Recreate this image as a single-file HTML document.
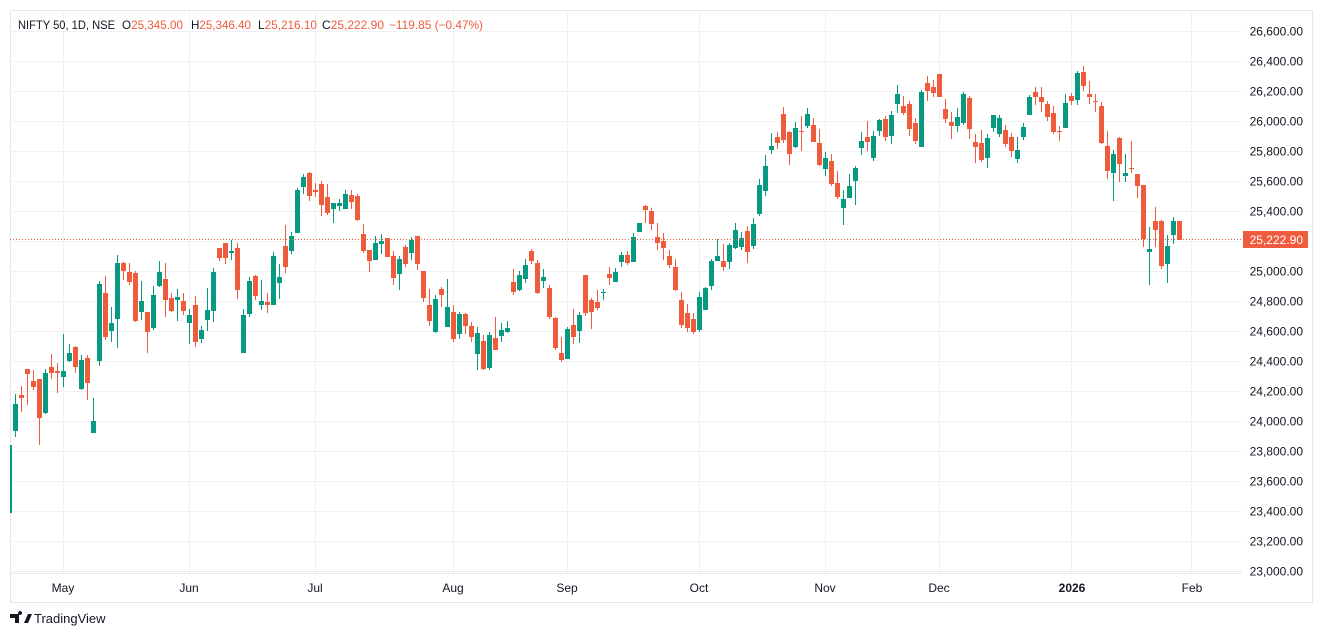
<!DOCTYPE html>
<html><head><meta charset="utf-8"><style>
html,body{margin:0;padding:0;background:#fff;width:1322px;height:637px;overflow:hidden;font-family:"Liberation Sans",sans-serif}
svg text{font-family:"Liberation Sans",sans-serif;white-space:pre}
</style></head><body>
<svg id="s" width="1322" height="637" xmlns="http://www.w3.org/2000/svg">
<rect x="10.5" y="10.5" width="1302" height="592" fill="#fff" stroke="#e6e7ea"/>
<g id="grid" stroke="#f0f1f3" stroke-width="1"></g>
<g id="c"></g>
<line x1="10" y1="239.5" x2="1242" y2="239.5" stroke="#ef5b3d" stroke-dasharray="1,2"/>
<g id="lbl" font-size="12" fill="#131722" text-anchor="end"></g>
<rect x="1243" y="231" width="65" height="17" fill="#ef5b3d"/>
<text x="1303" y="244" font-size="12" fill="#fff" text-anchor="end">25,222.90</text>
<g font-size="12" fill="#131722" text-anchor="middle">
<text x="63" y="592">May</text><text x="189" y="592">Jun</text><text x="315" y="592">Jul</text>
<text x="453" y="592">Aug</text><text x="567" y="592">Sep</text><text x="699" y="592">Oct</text>
<text x="825" y="592">Nov</text><text x="939" y="592">Dec</text>
<text x="1072" y="592" font-weight="bold">2026</text><text x="1192" y="592">Feb</text>
</g>
<g font-size="12" fill="#131722">
<text x="18" y="29" textLength="97" lengthAdjust="spacingAndGlyphs">NIFTY 50, 1D, NSE</text>
<text x="122" y="29" textLength="61" lengthAdjust="spacingAndGlyphs">O<tspan fill="#ef5b3d">25,345.00</tspan></text>
<text x="191" y="29" textLength="60" lengthAdjust="spacingAndGlyphs">H<tspan fill="#ef5b3d">25,346.40</tspan></text>
<text x="258" y="29" textLength="59" lengthAdjust="spacingAndGlyphs">L<tspan fill="#ef5b3d">25,216.10</tspan></text>
<text x="322" y="29" textLength="62" lengthAdjust="spacingAndGlyphs">C<tspan fill="#ef5b3d">25,222.90</tspan></text>
<text x="389" y="29" fill="#ef5b3d" textLength="94" lengthAdjust="spacingAndGlyphs">−119.85 (−0.47%)</text>
</g>
<g transform="translate(10,612)">
<path d="M0 2h9v9h-4v-5h-5z M10 3 a2 2 0 1 1 0.1 0 M14 11l4-9h4l-4 9z" fill="#131722"/>
<text x="24" y="11" font-size="13" fill="#131722">TradingView</text>
</g>
</svg>
<script>
var NS="http://www.w3.org/2000/svg";
function el(t,a,p){var e=document.createElementNS(NS,t);for(var k in a)e.setAttribute(k,a[k]);p.appendChild(e);return e;}
var g=document.getElementById('grid'),l=document.getElementById('lbl');
for(var i=0;i<19;i++){var y=31.5+i*30;el('line',{x1:10,x2:1242,y1:y,y2:y},g);
var v=26600-i*200;var t=el('text',{x:1303,y:y+4},l);t.textContent=v.toLocaleString('en-US')+'.00';}
[63,189,315,453,567,699,825,939,1071,1191].forEach(function(x){el('line',{x1:x+.5,x2:x+.5,y1:10,y2:573},g);});
el('line',{x1:10,x2:1242,y1:573.5,y2:573.5,stroke:'#e6e7ea'},g);
var d=[
[15,404,431,394,437,'g'],[21,395,398,386,412,'r'],[27,369,374,369,405,'r'],[33,381,387,370,390,'r'],[39,379,418,379,445,'r'],
[45,373,413,369,414,'g'],[51,367,373,354,379,'r'],[57,371,373,363,393,'r'],[63,371,377,334,387,'g'],[69,353,361,344,362,'g'],
[75,347,367,346,373,'r'],[81,360,389,355,390,'g'],[87,358,383,355,400,'r'],[93,421,433,398,433,'g'],[99,284,361,281,366,'g'],
[105,293,337,276,340,'r'],[111,323,331,307,342,'g'],[117,263,319,255,348,'g'],[123,263,271,262,280,'r'],[129,272,282,263,285,'r'],
[135,273,321,271,322,'r'],[141,301,312,281,320,'g'],[147,312,332,312,353,'r'],[153,295,328,286,330,'g'],[159,272,286,261,287,'g'],
[165,279,300,263,317,'r'],[171,298,311,293,312,'r'],[177,297,300,289,321,'g'],[183,301,311,293,315,'r'],[189,315,323,309,344,'g'],
[195,305,342,296,347,'r'],[201,330,339,326,343,'g'],[207,310,320,288,331,'g'],[213,272,311,268,322,'g'],[219,248,258,248,261,'r'],
[225,243,258,243,264,'r'],[231,251,253,240,260,'g'],[237,248,290,243,299,'r'],[243,315,353,309,353,'g'],[249,281,314,277,317,'g'],
[255,276,296,275,300,'r'],[261,301,305,280,310,'g'],[267,302,305,293,313,'r'],[273,256,305,252,305,'g'],[279,277,283,264,299,'g'],
[285,246,267,225,273,'r'],[291,236,251,232,254,'g'],[297,190,233,188,233,'g'],[303,177,187,174,194,'g'],[309,173,196,172,201,'r'],
[315,190,192,183,197,'r'],[321,184,205,181,216,'r'],[327,197,213,184,215,'r'],[333,203,209,203,223,'g'],[339,203,206,199,211,'g'],
[345,194,209,190,209,'g'],[351,195,202,190,209,'r'],[357,196,220,194,221,'r'],[363,234,251,224,253,'r'],[369,250,261,250,272,'r'],
[375,243,260,236,260,'g'],[381,241,244,234,254,'g'],[387,238,257,238,257,'r'],[393,256,278,251,285,'r'],[399,259,274,256,290,'g'],
[405,247,264,245,267,'r'],[411,240,253,237,260,'g'],[417,236,264,236,270,'r'],[423,271,298,271,302,'r'],[429,305,321,289,326,'r'],
[435,299,332,295,333,'g'],[441,289,295,287,307,'r'],[447,307,327,279,327,'g'],[453,312,339,305,342,'r'],[459,314,334,312,339,'g'],
[465,314,326,313,334,'r'],[471,326,337,322,342,'r'],[477,333,354,327,370,'g'],[483,341,369,335,370,'r'],[489,335,368,332,370,'g'],
[495,338,350,317,350,'r'],[501,330,336,323,342,'g'],[507,328,332,321,333,'g'],[513,282,292,269,295,'r'],[519,275,290,271,291,'g'],
[525,265,279,259,283,'g'],[531,251,261,249,264,'r'],[537,263,293,260,294,'r'],[543,277,281,269,288,'g'],[549,288,317,285,319,'r'],
[555,318,348,317,350,'r'],[561,353,360,337,362,'r'],[567,329,359,327,359,'g'],[573,325,337,309,344,'r'],[579,315,331,312,343,'g'],
[585,275,313,275,316,'r'],[591,300,312,298,329,'r'],[597,302,308,290,310,'r'],[603,292,293,289,300,'g'],[609,274,278,267,285,'r'],
[615,272,282,268,282,'g'],[621,255,262,252,267,'g'],[627,255,263,251,265,'r'],[633,237,262,233,262,'g'],[639,223,232,223,232,'g'],
[645,206,210,205,223,'r'],[651,211,224,208,230,'r'],[657,237,243,223,250,'r'],[663,241,248,233,260,'r'],[669,256,265,250,268,'r'],
[675,267,290,259,291,'r'],[681,300,325,292,328,'r'],[687,313,328,304,332,'r'],[693,319,332,313,334,'r'],[699,297,330,292,332,'g'],
[705,288,310,287,310,'g'],[711,261,286,259,290,'g'],[717,256,261,239,261,'g'],[723,261,267,244,271,'r'],[729,245,262,243,269,'g'],
[735,230,248,223,249,'g'],[741,238,247,232,250,'g'],[747,231,252,226,263,'r'],[753,224,246,218,249,'g'],[759,185,214,179,216,'g'],
[765,166,191,155,196,'g'],[771,146,150,133,154,'g'],[777,137,143,132,149,'r'],[783,114,140,107,143,'r'],[789,132,154,131,165,'r'],
[795,128,147,122,148,'g'],[801,131,132,116,151,'r'],[807,114,126,108,128,'g'],[813,125,142,118,142,'r'],[819,143,165,129,166,'r'],
[825,158,169,152,176,'g'],[831,161,184,154,186,'r'],[837,183,197,171,199,'r'],[843,199,208,190,225,'g'],[849,186,198,174,198,'g'],
[855,168,181,166,205,'g'],[861,141,148,132,155,'g'],[867,137,142,121,151,'r'],[873,136,158,131,161,'g'],[879,120,131,119,136,'g'],
[885,119,137,116,141,'r'],[891,115,136,111,144,'g'],[897,94,104,85,113,'g'],[903,106,113,96,115,'r'],[909,104,129,101,136,'r'],
[915,123,141,118,144,'r'],[921,92,147,90,147,'g'],[927,83,91,76,101,'r'],[933,87,93,80,97,'r'],[939,74,97,74,97,'r'],
[945,109,119,99,123,'r'],[951,122,126,112,139,'r'],[957,117,126,108,132,'g'],[963,94,123,92,125,'g'],[969,98,129,96,139,'r'],
[975,142,147,134,163,'r'],[981,143,160,130,162,'r'],[987,138,158,134,168,'g'],[993,115,128,115,132,'g'],[999,118,134,115,137,'g'],
[1005,130,144,125,147,'r'],[1011,137,151,133,157,'r'],[1017,150,159,137,163,'g'],[1023,127,137,123,140,'g'],[1029,97,115,95,115,'g'],
[1035,92,97,87,105,'r'],[1041,97,102,87,112,'r'],[1047,104,117,101,121,'r'],[1053,113,132,106,134,'r'],[1059,131,132,126,141,'r'],
[1065,103,128,94,128,'g'],[1071,96,101,93,105,'r'],[1077,73,100,71,105,'g'],[1083,72,86,66,91,'r'],[1089,94,97,81,104,'r'],
[1095,101,102,94,112,'r'],[1101,106,143,102,144,'r'],[1107,146,171,131,179,'r'],[1113,154,173,150,201,'g'],[1119,138,164,137,182,'r'],
[1125,173,176,154,182,'g'],[1131,168,169,141,173,'r'],[1137,174,186,174,198,'r'],[1143,185,239,185,247,'r'],[1149,249,252,227,285,'g'],
[1155,221,230,207,247,'r'],[1161,221,266,220,269,'r'],[1167,246,264,235,283,'g'],[1173,221,235,217,244,'g'],[1179,221,240,221,240,'r']
];
var c=document.getElementById('c');
el('rect',{x:10,y:445,width:2,height:68,fill:'#089981'},c);
d.forEach(function(a){var col=a[5]=='g'?'#089981':'#ef5b3d';
el('rect',{x:a[0],y:a[3],width:1,height:a[4]-a[3],fill:col},c);
el('rect',{x:a[0]-2,y:a[1],width:5,height:Math.max(1,a[2]-a[1]),fill:col},c);});
</script>
</body></html>
